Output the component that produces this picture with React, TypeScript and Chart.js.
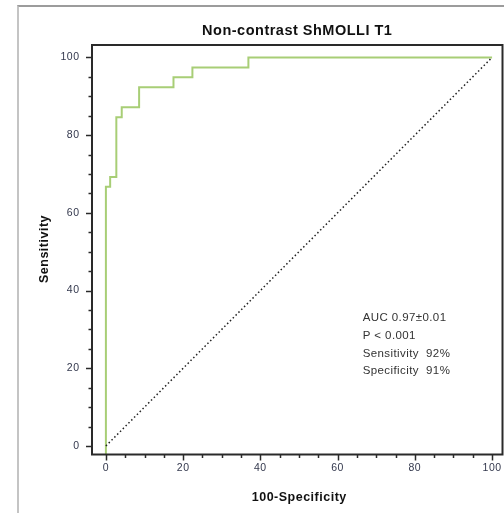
import React, { useEffect, useRef } from "react";
import { Chart, registerables } from "chart.js";

Chart.register(...registerables);

// ROC curve (100-Specificity vs Sensitivity)
const X_MIN = -3.6;
const X_MAX = 102.7;
const Y_MIN = -2.2;
const Y_MAX = 103.2;
const rocFpr = [0, 0, 1.1, 2.7, 4.1, 8.6, 17.5, 22.4, 36.9, 100];
const rocSens = [Y_MIN, 66.7, 69.2, 84.6, 87.2, 92.3, 94.9, 97.4, 100, 100];
const diagX = [0, 100];
const diagY = [0, 100];
const majorTicks = [0, 20, 40, 60, 80, 100];
const minorTicks = [5, 10, 15, 25, 30, 35, 45, 50, 55, 65, 70, 75, 85, 90, 95];
const titleText = "Non-contrast ShMOLLI T1";
const xTitle = "100-Specificity";
const yTitle = "Sensitivity";
const statsLines = ["AUC 0.97\u00B10.01", "P < 0.001", "Sensitivity  92%", "Specificity  91%"];

const FONT = "'Liberation Sans', Arial, sans-serif";

const decorPlugin = {
  id: "decor",
  beforeDraw(chart: any) {
    chart.ctx.letterSpacing = "0.5px";
  },
  afterDraw(chart: any) {
    const { ctx, chartArea: a, scales } = chart;
    const xs = scales.x;
    const ys = scales.y;
    ctx.save();
    // frame
    ctx.strokeStyle = "#2a2a2a";
    ctx.lineWidth = 2;
    ctx.strokeRect(a.left, a.top, a.right - a.left, a.bottom - a.top);
    // ticks
    ctx.lineWidth = 1.5;
    const drawX = (v: number, len: number) => {
      const px = Math.round(xs.getPixelForValue(v)) + 0.5;
      ctx.beginPath();
      ctx.moveTo(px, a.bottom);
      ctx.lineTo(px, a.bottom + len);
      ctx.stroke();
    };
    const drawY = (v: number, len: number) => {
      const py = Math.round(ys.getPixelForValue(v)) + 0.5;
      ctx.beginPath();
      ctx.moveTo(a.left, py);
      ctx.lineTo(a.left - len, py);
      ctx.stroke();
    };
    majorTicks.forEach((v) => { drawX(v, 6); drawY(v, 6); });
    minorTicks.forEach((v) => { drawX(v, 3.5); drawY(v, 3.5); });
    // title
    ctx.fillStyle = "#111";
    ctx.textAlign = "center";
    ctx.textBaseline = "middle";
    ctx.letterSpacing = "0.5px";
    ctx.font = `bold 14.5px ${FONT}`;
    ctx.fillText(titleText, (a.left + a.right) / 2, 31);
    // x title
    ctx.letterSpacing = "0.5px";
    ctx.font = `bold 12.5px ${FONT}`;
    ctx.fillText(xTitle, (a.left + a.right) / 2 + 2, 498);
    // y title
    ctx.save();
    ctx.translate(45, 249);
    ctx.rotate(-Math.PI / 2);
    ctx.fillText(yTitle, 0, 0);
    ctx.restore();
    // stats
    ctx.letterSpacing = "0.4px";
    ctx.font = `11.5px ${FONT}`;
    ctx.textAlign = "left";
    ctx.fillStyle = "#333";
    const sx = xs.getPixelForValue(66.5);
    statsLines.forEach((t, i) => {
      ctx.fillText(t, sx, 318 + i * 17.7);
    });
    ctx.restore();
  },
};

export default function App() {
  const ref = useRef<HTMLCanvasElement | null>(null);
  useEffect(() => {
    if (!ref.current) return;
    const chart = new Chart(ref.current, {
      type: "scatter",
      data: {
        datasets: [
          {
            label: "diag",
            data: diagX.map((x, i) => ({ x, y: diagY[i] })),
            showLine: true,
            borderColor: "#222",
            borderWidth: 1.5,
            borderDash: [1.5, 2.5],
            pointRadius: 0,
          },
          {
            label: "ROC",
            data: rocFpr.map((x, i) => ({ x, y: rocSens[i] })),
            showLine: true,
            stepped: "before",
            borderColor: "rgb(168,206,118)",
            borderWidth: 2,
            pointRadius: 0,
          },
        ],
      },
      options: {
        animation: false,
        responsive: false,
        layout: { padding: { left: 0, top: 45, right: 1.5, bottom: 0 } },
        plugins: { legend: { display: false }, title: { display: false }, tooltip: { enabled: false } },
        scales: {
          x: {
            type: "linear",
            min: X_MIN,
            max: X_MAX,
            afterBuildTicks: (s: any) => { s.ticks = majorTicks.map((v) => ({ value: v })); },
            afterFit: (s: any) => { s.height = 58.5; },
            grid: { display: false, drawTicks: true, tickLength: 6 },
            border: { display: false },
            ticks: { padding: 1, maxRotation: 0, autoSkip: false, color: "#33384d", font: { family: FONT, size: 10.5 } },
          },
          y: {
            type: "linear",
            min: Y_MIN,
            max: Y_MAX,
            afterBuildTicks: (s: any) => { s.ticks = majorTicks.map((v) => ({ value: v })); },
            afterFit: (s: any) => { s.width = 92; },
            grid: { display: false, drawTicks: true, tickLength: 6 },
            border: { display: false },
            ticks: { padding: 6.5, autoSkip: false, color: "#33384d", font: { family: FONT, size: 10.5 } },
          },
        },
      },
      plugins: [decorPlugin],
    } as any);
    return () => chart.destroy();
  }, []);
  return (
    <div style={{ position: "fixed", left: 0, top: 0, width: 504, height: 513, overflow: "hidden", background: "#fff" }}>
      <div style={{ position: "absolute", left: 17, top: 5, width: 600, height: 600, borderTop: "2px solid #9c9c9c", borderLeft: "2px solid #c4c4c4" }} />
      <canvas ref={ref} width={504} height={513} style={{ position: "absolute", left: 0, top: 0, width: 504, height: 513 }} />
    </div>
  );
}
